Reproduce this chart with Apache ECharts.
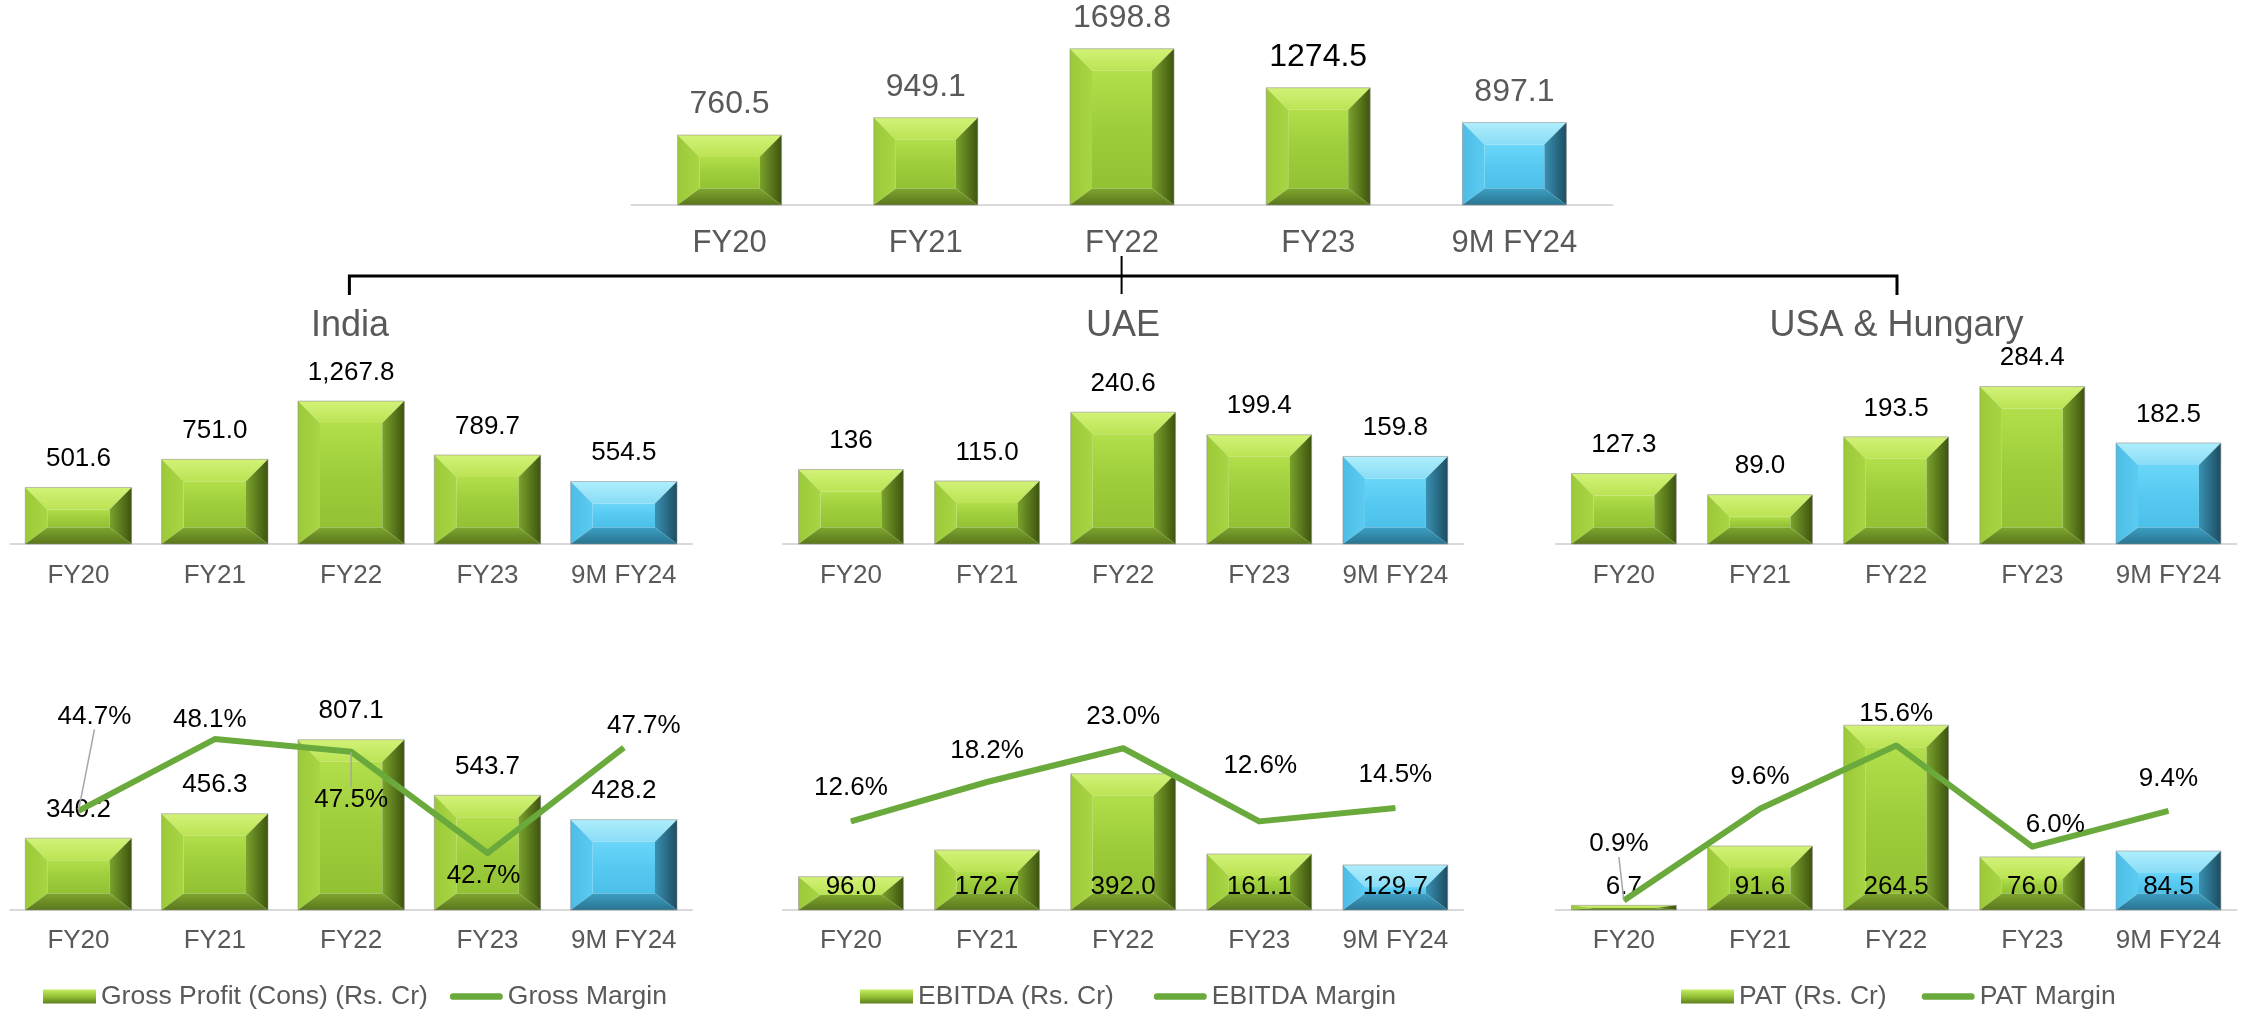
<!DOCTYPE html>
<html>
<head>
<meta charset="utf-8">
<script src="https://cdn.jsdelivr.net/npm/echarts@6/dist/echarts.min.js"></script>
<style>
  html, body { margin: 0; padding: 0; background: #fff; }
  #chart { width: 2250px; height: 1011px; }
</style>
</head>
<body>
<div id="chart"></div>
<script>
const years = ["FY20", "FY21", "FY22", "FY23", "9M FY24"];

const revenueTotal = [760.5, 949.1, 1698.8, 1274.5, 897.1];
const revenueIndia = [501.6, 751.0, 1267.8, 789.7, 554.5];
const revenueUae = [136, 115.0, 240.6, 199.4, 159.8];
const revenueUsa = [127.3, 89.0, 193.5, 284.4, 182.5];

const grossProfit = [340.2, 456.3, 807.1, 543.7, 428.2];
const grossMargin = [44.7, 48.1, 47.5, 42.7, 47.7];
const ebitda = [96.0, 172.7, 392.0, 161.1, 129.7];
const ebitdaMargin = [12.6, 18.2, 23.0, 12.6, 14.5];
const pat = [6.7, 91.6, 264.5, 76.0, 84.5];
const patMargin = [0.9, 9.6, 15.6, 6.0, 9.4];

// label text as printed on the slide
const uaeRevenueText = ["136", "115.0", "240.6", "199.4", "159.8"];

// label nudges for the margin lines (dx, dy) and which ones get a leader line
const grossMarginShift = [[16, -63], [-5, 12], [0, 80], [-4, 54], [20, 10]];
const grossMarginLeader = [true, false, true, false, false];
const ebitdaMarginShift = [[0, -2], [0, 0], [0, 0], [1, -24], [0, -2]];
const patMarginShift = [[-5, -25], [0, 0], [0, 0], [23, 10], [0, -1]];
const patMarginLeader = [true, false, false, false, false];

const FONT = '"Liberation Sans", Arial, sans-serif';
const GREY = "#595959";
const LINE_GREEN = "#6aa93b";
const BEVEL = 22;

const lg = (vertical, colors) =>
  new echarts.graphic.LinearGradient(0, 0, vertical ? 0 : 1, vertical ? 1 : 0,
    colors.map((c, i) => ({ offset: i / (colors.length - 1), color: c })));

const GREEN = {
  face: ["#b2de4b", "#9dcd3b", "#92c234"],
  top: ["#d2f277", "#bbe354"],
  left: ["#9bc937", "#a8d544"],
  right: ["#7ba32c", "#3e540e"],
  bottom: ["#7ea62e", "#5a761c"]
};
const BLUE = {
  face: ["#6ad6f8", "#56c9f1", "#4cc0ea"],
  top: ["#aeeefc", "#8adcf6"],
  left: ["#4dbde6", "#5ccbf1"],
  right: ["#3891b3", "#1d4d61"],
  bottom: ["#3c9fc3", "#2a7490"]
};
const barPalette = [GREEN, GREEN, GREEN, GREEN, BLUE];

const fmt1 = (v) => v.toFixed(1);
const fmtComma = (v) => v.toLocaleString("en-US", { minimumFractionDigits: 1, maximumFractionDigits: 1 });

function bevelRenderer(opts) {
  return function (params, api) {
    const i = api.value(0);
    const v = api.value(1);
    const topPt = api.coord([i, v]);
    const basePt = api.coord([i, 0]);
    const w = api.size([1, 0])[0] * opts.ratio;
    const x0 = topPt[0] - w / 2;
    const x1 = topPt[0] + w / 2;
    const y0 = topPt[1];
    const y1 = basePt[1];
    const h = y1 - y0;
    const s = Math.min(BEVEL, w / 2.5);
    const bt = Math.min(BEVEL, h * 0.55);
    const bb = Math.min(BEVEL * 0.75, h * 0.45);
    const pal = barPalette[params.dataIndex];
    const labelColor = opts.labelColors ? opts.labelColors[params.dataIndex] : "#000";
    return {
      type: "group",
      children: [
        {
          type: "rect",
          shape: { x: x0 + s, y: y0 + bt, width: w - 2 * s, height: Math.max(0, h - bt - bb) },
          style: { fill: lg(true, pal.face) }
        },
        {
          type: "polygon",
          shape: { points: [[x0, y0], [x1, y0], [x1 - s, y0 + bt], [x0 + s, y0 + bt]] },
          style: { fill: lg(true, pal.top) }
        },
        {
          type: "polygon",
          shape: { points: [[x0, y0], [x0 + s, y0 + bt], [x0 + s, y1 - bb], [x0, y1]] },
          style: { fill: lg(false, pal.left) }
        },
        {
          type: "polygon",
          shape: { points: [[x1, y0], [x1 - s, y0 + bt], [x1 - s, y1 - bb], [x1, y1]] },
          style: { fill: lg(false, pal.right) }
        },
        {
          type: "polygon",
          shape: { points: [[x0, y1], [x1, y1], [x1 - s, y1 - bb], [x0 + s, y1 - bb]] },
          style: { fill: lg(true, pal.bottom) }
        },
        {
          type: "rect",
          z2: 10,
          shape: { x: x0, y: y0, width: w, height: h },
          style: { fill: "none", stroke: "rgba(140,140,140,0.55)", lineWidth: 1 },
          textContent: {
            style: {
              text: opts.labels[params.dataIndex],
              fill: labelColor,
              fontSize: opts.fontSize,
              fontFamily: FONT
            }
          },
          textConfig: { position: opts.labelPos, distance: opts.labelDist }
        }
      ]
    };
  };
}

function barSeries(name, values, axisIndex, yIndex, opts) {
  return {
    name,
    type: "custom",
    xAxisIndex: axisIndex,
    yAxisIndex: yIndex,
    encode: { x: 0, y: 1 },
    itemStyle: { color: "#9acb3a" },
    data: values.map((v, i) => [i, v]),
    renderItem: bevelRenderer(opts)
  };
}

function marginSeries(name, values, axisIndex, yIndex, shift, leader) {
  return {
    name,
    type: "line",
    xAxisIndex: axisIndex,
    yAxisIndex: yIndex,
    symbol: "circle",
    symbolSize: 1,
    showSymbol: true,
    itemStyle: { color: LINE_GREEN },
    lineStyle: { color: LINE_GREEN, width: 6, join: "round" },
    z: 5,
    data: values.map((v, i) => ({ value: v, labelLine: { show: !!(leader && leader[i]) } })),
    label: {
      show: true,
      position: "top",
      distance: 18,
      fontSize: 26,
      fontFamily: FONT,
      color: "#000",
      formatter: (p) => p.value.toFixed(1) + "%"
    },
    labelLine: { show: false, lineStyle: { color: "#a6a6a6", width: 1.5 } },
    labelLayout: (p) => ({ dx: shift[p.dataIndex][0], dy: shift[p.dataIndex][1] }),
    emphasis: { disabled: true }
  };
}

const colLeft = [10.3, 782.9, 1555.8];
const colWidth = [681.7, 680.5, 680.7];

const grids = [
  { left: 631.5, top: 21, width: 981, height: 184 },
  { left: colLeft[0], top: 364, width: colWidth[0], height: 180 },
  { left: colLeft[1], top: 364, width: colWidth[1], height: 180 },
  { left: colLeft[2], top: 364, width: colWidth[2], height: 180 },
  { left: colLeft[0], top: 699, width: colWidth[0], height: 211 },
  { left: colLeft[1], top: 699, width: colWidth[1], height: 211 },
  { left: colLeft[2], top: 699, width: colWidth[2], height: 211 }
].map((g) => Object.assign({ outerBoundsMode: "none", containLabel: false }, g));

const xAxes = grids.map((g, i) => ({
  type: "category",
  gridIndex: i,
  data: years,
  axisLine: { show: true, lineStyle: { color: "#d9d9d9", width: 2 } },
  axisTick: { show: false },
  axisLabel: {
    interval: 0,
    color: GREY,
    fontFamily: FONT,
    fontSize: i === 0 ? 31 : 26,
    margin: i === 0 ? 23 : i < 4 ? 19 : 18
  }
}));

const yAxisRanges = [
  [0, 0, 2000], [1, 0, 1597], [2, 0, 328.5], [3, 0, 325],
  [4, 0, 1000], [4, 40, 50],
  [5, 0, 607], [5, 0, 30],
  [6, 0, 302], [6, 0, 20]
];
const yAxes = yAxisRanges.map(([gi, min, max]) => ({
  type: "value", gridIndex: gi, min, max, show: false
}));

const barLegendIcon = {
  icon: "rect",
  itemStyle: { color: lg(true, ["#c4ec63", "#93c236", "#5d7f1b"]) }
};
const lineLegendIcon = {
  icon: "path://M3,0 L51,0 A3.5,3.5 0 0 1 51,7 L3,7 A3.5,3.5 0 0 1 3,0 Z",
  itemStyle: { color: LINE_GREEN }
};

const chart = echarts.init(document.getElementById("chart"));
chart.setOption({
  animation: false,
  backgroundColor: "#fff",
  textStyle: { fontFamily: FONT },
  grid: grids,
  xAxis: xAxes,
  yAxis: yAxes,
  legend: [
    {
      left: 43, itemGap: 22,
      data: [Object.assign({ name: "Gross Profit (Cons) (Rs. Cr)" }, barLegendIcon), Object.assign({ name: "Gross Margin" }, lineLegendIcon)]
    },
    {
      left: 860, itemGap: 40,
      data: [Object.assign({ name: "EBITDA (Rs. Cr)" }, barLegendIcon), Object.assign({ name: "EBITDA Margin" }, lineLegendIcon)]
    },
    {
      left: 1681, itemGap: 35,
      data: [Object.assign({ name: "PAT (Rs. Cr)" }, barLegendIcon), Object.assign({ name: "PAT Margin" }, lineLegendIcon)]
    }
  ].map((l) => Object.assign({
    top: 983, padding: 0, itemWidth: 53, itemHeight: 14, itemTextGap: 4,
    selectedMode: false,
    textStyle: { color: GREY, fontSize: 26.5, fontFamily: FONT }
  }, l)),
  graphic: [
    {
      type: "polyline",
      shape: { points: [[349.4, 295], [349.4, 276], [1897, 276], [1897, 295]] },
      style: { stroke: "#000", lineWidth: 3, fill: null }
    },
    {
      type: "line",
      shape: { x1: 1121.6, y1: 256, x2: 1121.6, y2: 294 },
      style: { stroke: "#000", lineWidth: 2 }
    },
    { type: "text", x: 350, y: 326, style: { text: "India", fill: GREY, fontSize: 36, fontFamily: FONT, textAlign: "center", textVerticalAlign: "middle" } },
    { type: "text", x: 1123, y: 326, style: { text: "UAE", fill: GREY, fontSize: 36, fontFamily: FONT, textAlign: "center", textVerticalAlign: "middle" } },
    { type: "text", x: 1896.5, y: 326, style: { text: "USA & Hungary", fill: GREY, fontSize: 36, fontFamily: FONT, textAlign: "center", textVerticalAlign: "middle" } }
  ],
  series: [
    barSeries("Revenue", revenueTotal, 0, 0, {
      ratio: 0.53, labels: revenueTotal.map(fmt1), fontSize: 32, labelPos: "top", labelDist: 12,
      labelColors: [GREY, GREY, GREY, "#000", GREY]
    }),
    barSeries("India", revenueIndia, 1, 1, {
      ratio: 0.78, labels: revenueIndia.map(fmtComma), fontSize: 26, labelPos: "top", labelDist: 13
    }),
    barSeries("UAE", revenueUae, 2, 2, {
      ratio: 0.77, labels: uaeRevenueText, fontSize: 26, labelPos: "top", labelDist: 13
    }),
    barSeries("USA & Hungary", revenueUsa, 3, 3, {
      ratio: 0.77, labels: revenueUsa.map(fmt1), fontSize: 26, labelPos: "top", labelDist: 13
    }),
    barSeries("Gross Profit (Cons) (Rs. Cr)", grossProfit, 4, 4, {
      ratio: 0.78, labels: grossProfit.map(fmt1), fontSize: 26, labelPos: "top", labelDist: 13
    }),
    marginSeries("Gross Margin", grossMargin, 4, 5, grossMarginShift, grossMarginLeader),
    barSeries("EBITDA (Rs. Cr)", ebitda, 5, 6, {
      ratio: 0.77, labels: ebitda.map(fmt1), fontSize: 26, labelPos: "insideBottom", labelDist: 13
    }),
    marginSeries("EBITDA Margin", ebitdaMargin, 5, 7, ebitdaMarginShift, null),
    barSeries("PAT (Rs. Cr)", pat, 6, 8, {
      ratio: 0.77, labels: pat.map(fmt1), fontSize: 26, labelPos: "insideBottom", labelDist: 13
    }),
    marginSeries("PAT Margin", patMargin, 6, 9, patMarginShift, patMarginLeader)
  ]
});
</script>
</body>
</html>
